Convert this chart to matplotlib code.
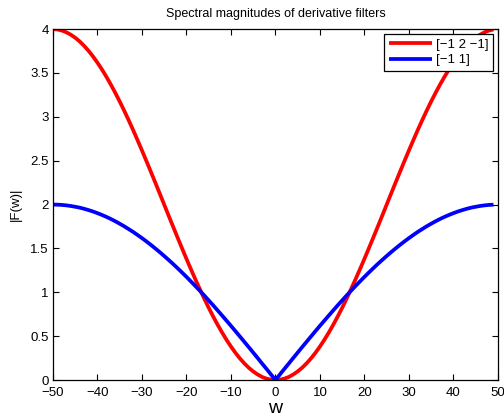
import matplotlib
matplotlib.use("Agg")
import matplotlib.pyplot as plt

plt.rcParams['font.family'] = ['Liberation Sans', 'DejaVu Sans']

# Frequency samples (w = -50 .. 49) and magnitudes
w = list(range(-50, 50))
mag_121 = [4.000, 3.996, 3.984, 3.964, 3.937, 3.902, 3.860, 3.810, 3.753, 3.689,
           3.618, 3.541, 3.458, 3.369, 3.275, 3.176, 3.072, 2.964, 2.852, 2.736,
           2.618, 2.497, 2.375, 2.251, 2.126, 2.000, 1.874, 1.749, 1.625, 1.503,
           1.382, 1.264, 1.149, 1.037, 0.928, 0.824, 0.725, 0.631, 0.542, 0.459,
           0.382, 0.311, 0.247, 0.190, 0.140, 0.098, 0.063, 0.035, 0.016, 0.004,
           0.000, 0.004, 0.016, 0.035, 0.063, 0.098, 0.140, 0.190, 0.247, 0.311,
           0.382, 0.459, 0.542, 0.631, 0.725, 0.824, 0.928, 1.037, 1.149, 1.264,
           1.382, 1.503, 1.625, 1.749, 1.874, 2.000, 2.126, 2.251, 2.375, 2.497,
           2.618, 2.736, 2.852, 2.964, 3.072, 3.176, 3.275, 3.369, 3.458, 3.541,
           3.618, 3.689, 3.753, 3.810, 3.860, 3.902, 3.937, 3.964, 3.984, 3.996]
mag_11 = [2.000, 1.999, 1.996, 1.991, 1.984, 1.975, 1.965, 1.952, 1.937, 1.921,
          1.902, 1.882, 1.860, 1.836, 1.810, 1.782, 1.753, 1.721, 1.689, 1.654,
          1.618, 1.580, 1.541, 1.500, 1.458, 1.414, 1.369, 1.323, 1.275, 1.226,
          1.176, 1.124, 1.072, 1.018, 0.964, 0.908, 0.852, 0.794, 0.736, 0.677,
          0.618, 0.558, 0.497, 0.436, 0.375, 0.313, 0.251, 0.188, 0.126, 0.063,
          0.000, 0.063, 0.126, 0.188, 0.251, 0.313, 0.375, 0.436, 0.497, 0.558,
          0.618, 0.677, 0.736, 0.794, 0.852, 0.908, 0.964, 1.018, 1.072, 1.124,
          1.176, 1.226, 1.275, 1.323, 1.369, 1.414, 1.458, 1.500, 1.541, 1.580,
          1.618, 1.654, 1.689, 1.721, 1.753, 1.782, 1.810, 1.836, 1.860, 1.882,
          1.902, 1.921, 1.937, 1.952, 1.965, 1.975, 1.984, 1.991, 1.996, 1.999]
labels = ['[\u22121 2 \u22121]', '[\u22121 1]']
xticks = [-50, -40, -30, -20, -10, 0, 10, 20, 30, 40, 50]
yticks = [0, 0.5, 1, 1.5, 2, 2.5, 3, 3.5, 4]

fig = plt.figure(figsize=(5.04, 4.16), dpi=100)
ax = fig.add_axes([0.105, 0.0865, 0.883, 0.8435])
ax.plot(w, mag_121, color='#ff0000', lw=2.7, label=labels[0], solid_capstyle='butt')
ax.plot(w, mag_11, color='#0000ff', lw=2.7, label=labels[1], solid_capstyle='butt')
ax.set_xlim(-50, 50)
ax.set_ylim(0, 4)
ax.set_xticks(xticks)
ax.set_xticklabels([str(t).replace('-', '\u2212') for t in xticks])
ax.set_yticks(yticks)
ax.set_yticklabels([('%g' % t) for t in yticks])
ax.tick_params(direction='in', top=True, right=True, labelsize=9.5, length=4, width=0.8)
ax.tick_params(axis='x', pad=5)
ax.tick_params(axis='y', pad=3)
for s in ax.spines.values():
    s.set_linewidth(0.9)
ax.set_title('Spectral magnitudes of derivative filters', fontsize=9, pad=9)
ax.set_xlabel('w', fontsize=14, labelpad=1)
ax.set_ylabel('|F(w)|', fontsize=9.5, labelpad=6)
leg = ax.legend(loc='upper right', fontsize=9.5, frameon=True, fancybox=False,
                edgecolor='black', borderpad=0.35, labelspacing=0.25, handlelength=3.3,
                handletextpad=0.3, borderaxespad=0.35, framealpha=1)
leg.get_frame().set_linewidth(0.9)
fig.savefig('out.png', dpi=100)
